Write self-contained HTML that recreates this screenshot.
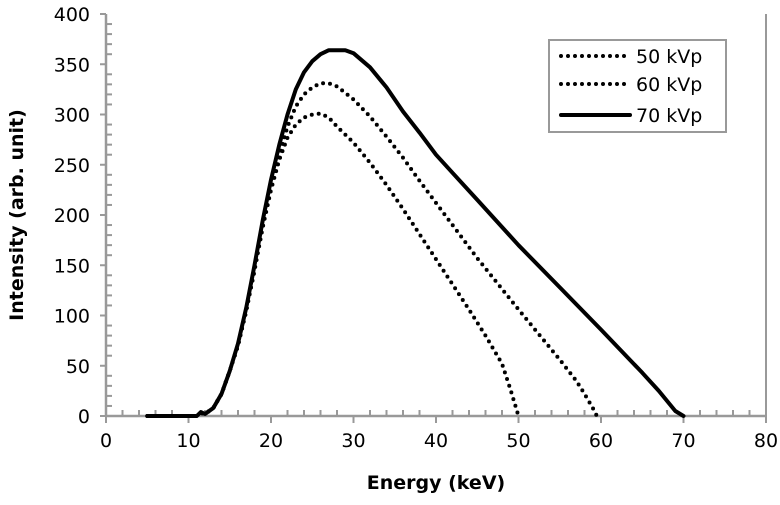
<!DOCTYPE html>
<html><head><meta charset="utf-8"><style>
body{margin:0;background:#fff}
text{font-family:"DejaVu Sans","Liberation Sans",sans-serif}
</style></head><body>
<svg id="chart" width="780" height="500" xmlns="http://www.w3.org/2000/svg"></svg>
<script>
const xTicks=[0,10,20,30,40,50,60,70,80];
const yTicks=[0,50,100,150,200,250,300,350,400];
const e50=[5,11,11.5,12,13,14,15,16,17,18,19,20,21,22,23,24,25,26,27,28,30,32,34,36,38,40,42,44,46,48,49,50];
const v50=[0,0,3,2,8,22,45,70,105,145,188,225,255,277,290,297,300,301,297,288,272,252,230,206,181,156,131,106,80,52,27,0];
const e60=[5,11,11.5,12,13,14,15,16,17,18,19,20,21,22,23,24,25,26,27,28,30,32,34,36,38,40,45,50,55,57,58,59,59.5];
const v60=[0,0,3,2,8,22,45,70,105,145,190,228,260,288,308,320,327,331,331,328,315,298,278,257,234,212,157,106,56,35,22,8,0];
const e70=[5,11,11.5,12,13,14,15,16,17,18,19,20,21,22,23,24,25,26,27,28,29,30,32,34,36,38,40,42,45,50,55,60,65,67,68,69,70];
const v70=[0,0,4,2,8,22,45,72,108,150,195,235,270,300,325,342,353,360,364,364,364,361,347,327,303,282,260,242,215,170,128,86,43,25,15,5,0];
const svg=document.getElementById('chart');
const NS='http://www.w3.org/2000/svg';
const X=v=>106+v*8.25, Y=v=>416-v*1.005;
function mk(t,a,p){const e=document.createElementNS(NS,t);for(const k in a)e.setAttribute(k,a[k]);(p||svg).appendChild(e);return e;}
let r=mk('line',{x1:766,y1:14,x2:766,y2:416,stroke:'#999','stroke-width':2});


for(let v=0;v<=400;v+=10){const l=mk('line',{x1:v%50?106:100,y1:Y(v),x2:v%50?112:106,y2:Y(v),stroke:'#999','stroke-width':2});

}
for(let v=0;v<=80;v+=2){const l=mk('line',{x1:X(v),y1:v%10?410:416,x2:X(v),y2:v%10?416:423,stroke:'#999','stroke-width':2});

}
let ya=mk('line',{x1:106,y1:14,x2:106,y2:417,stroke:'#999','stroke-width':2.5});


let xa=mk('line',{x1:105,y1:416,x2:767,y2:416,stroke:'#999','stroke-width':2.5});


yTicks.forEach(v=>{const t=mk('text',{x:90,y:Y(v)+7,'text-anchor':'end','font-size':19,fill:'#000'});t.textContent=v;

});
xTicks.forEach(v=>{const t=mk('text',{x:X(v),y:447,'text-anchor':'middle','font-size':19,fill:'#000'});t.textContent=v;

});
let xt=mk('text',{x:436,y:489,'text-anchor':'middle','font-size':19,'font-weight':'bold'});xt.textContent='Energy (keV)';


let yt=mk('text',{x:0,y:0,'text-anchor':'middle','font-size':19,'font-weight':'bold',transform:'translate(23,215) rotate(-90)'});yt.textContent='Intensity (arb. unit)';


function series(es,vs,dotted,name){const d=es.map((e,i)=>(i?'L':'M')+X(e).toFixed(1)+','+Y(vs[i]).toFixed(1)).join(' ');
const p=mk('path',{d:d,fill:'none',stroke:'#000','stroke-width':dotted?4:4,'stroke-linecap':'round','stroke-linejoin':'round'});
if(dotted)p.setAttribute('stroke-dasharray','0 7');

}
series(e50,v50,true,'series-50kvp');
series(e60,v60,true,'series-60kvp');
series(e70,v70,false,'series-70kvp');
let lg=mk('rect',{x:549,y:40,width:177,height:92,fill:'#fff',stroke:'#999','stroke-width':2});


[['50 kVp',true,56],['60 kVp',true,84],['70 kVp',false,115]].forEach(([lab,dot,y])=>{
const l=mk('line',{x1:561,y1:y,x2:630,y2:y,stroke:'#000','stroke-width':4,'stroke-linecap':'round'});
if(dot)l.setAttribute('stroke-dasharray','0 7');


const t=mk('text',{x:636,y:y+7,'font-size':19});t.textContent=lab;

});
</script>
</body></html>
